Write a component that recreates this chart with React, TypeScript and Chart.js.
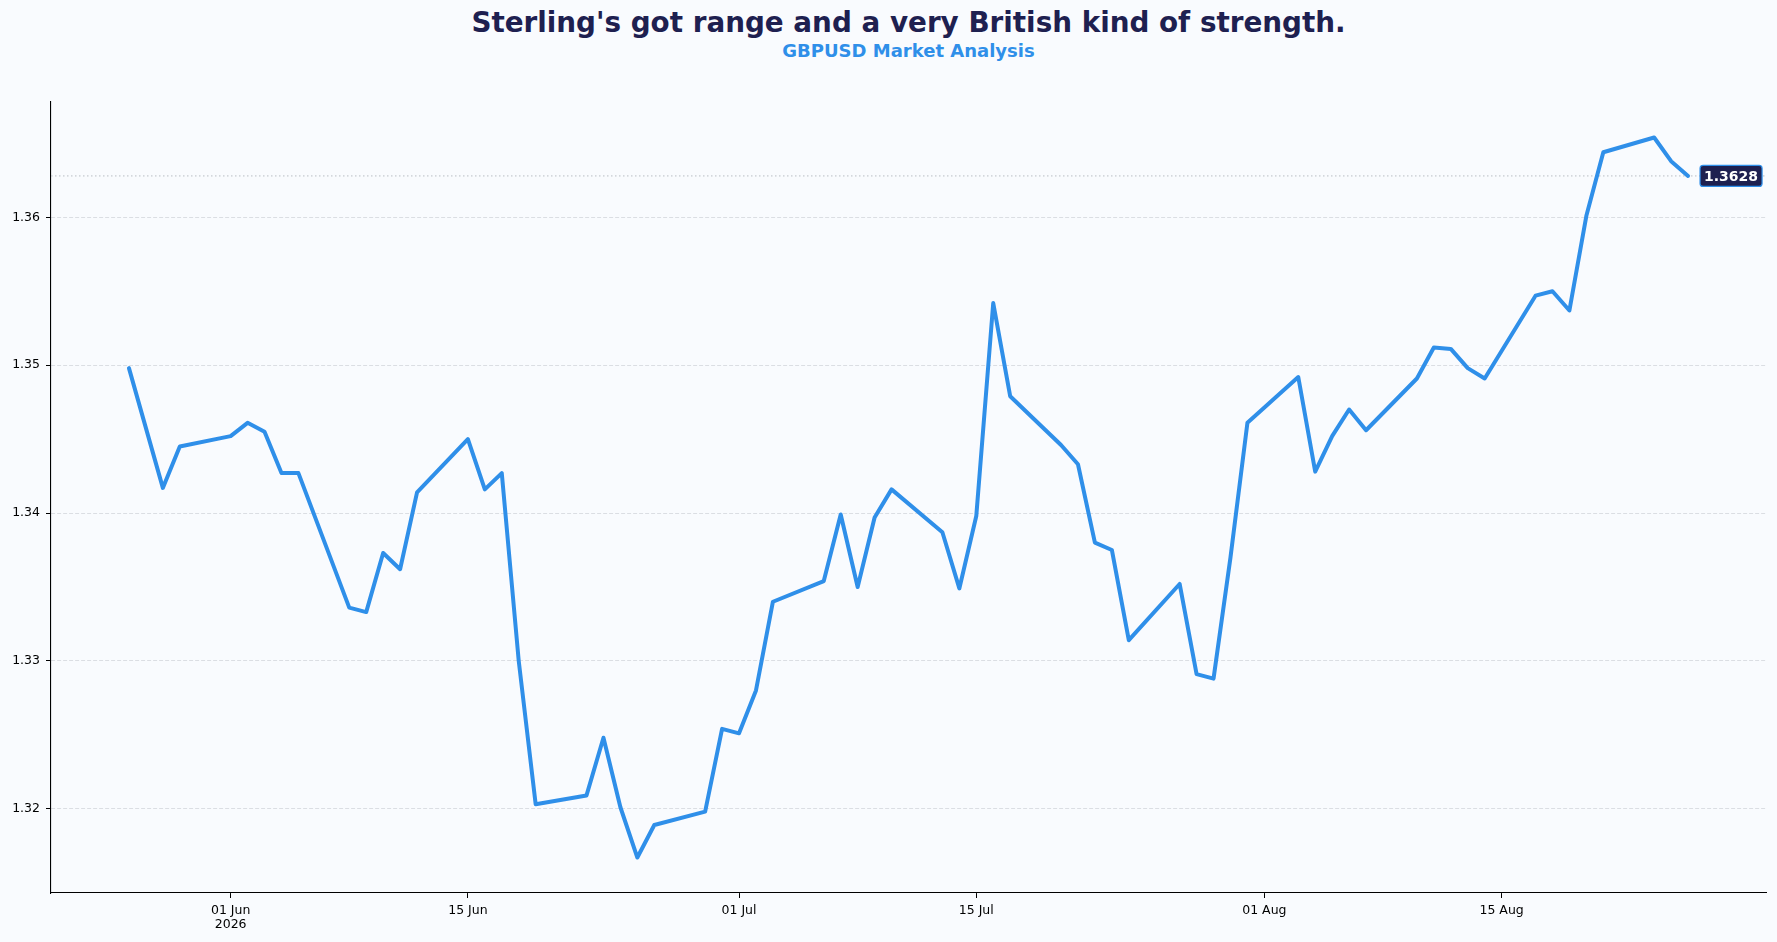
import React, { useEffect, useRef } from "react";
import { Chart, ChartConfiguration, Plugin, registerables } from "chart.js";

Chart.register(...registerables);

// GBPUSD daily closes (trading days)
const dates = [
  "2026-05-26", "2026-05-28", "2026-05-29",
  "2026-06-01", "2026-06-02", "2026-06-03", "2026-06-04", "2026-06-05",
  "2026-06-08", "2026-06-09", "2026-06-10", "2026-06-11", "2026-06-12",
  "2026-06-15", "2026-06-16", "2026-06-17", "2026-06-18", "2026-06-19",
  "2026-06-22", "2026-06-23", "2026-06-24", "2026-06-25", "2026-06-26",
  "2026-06-29", "2026-06-30", "2026-07-01", "2026-07-02", "2026-07-03",
  "2026-07-06", "2026-07-07", "2026-07-08", "2026-07-09", "2026-07-10",
  "2026-07-13", "2026-07-14", "2026-07-15", "2026-07-16", "2026-07-17",
  "2026-07-20", "2026-07-21", "2026-07-22", "2026-07-23", "2026-07-24",
  "2026-07-27", "2026-07-28", "2026-07-29", "2026-07-30", "2026-07-31",
  "2026-08-03", "2026-08-04", "2026-08-05", "2026-08-06", "2026-08-07",
  "2026-08-10", "2026-08-11", "2026-08-12", "2026-08-13", "2026-08-14",
  "2026-08-17", "2026-08-18", "2026-08-19", "2026-08-20", "2026-08-21",
  "2026-08-24", "2026-08-25", "2026-08-26",
];

const closes = [
  1.3498, 1.3417, 1.3445,
  1.3452, 1.3461, 1.3455, 1.3427, 1.3427,
  1.3336, 1.3333, 1.3373, 1.3362, 1.3414,
  1.345, 1.3416, 1.3427, 1.33, 1.3203,
  1.3209, 1.3248, 1.3201, 1.3167, 1.3189,
  1.3198, 1.3254, 1.3251, 1.328, 1.334,
  1.3354, 1.3399, 1.335, 1.3397, 1.3416,
  1.3387, 1.3349, 1.3398, 1.3542, 1.3479,
  1.3446, 1.3433, 1.338, 1.3375, 1.3314,
  1.3352, 1.3291, 1.3288, 1.337, 1.3461,
  1.3492, 1.3428, 1.3452, 1.347, 1.3456,
  1.3491, 1.3512, 1.3511, 1.3498, 1.3491,
  1.3547, 1.355, 1.3537, 1.3601, 1.3644,
  1.3654, 1.3638, 1.3628,
];

const xTickDates = ["2026-06-01", "2026-06-15", "2026-07-01", "2026-07-15", "2026-08-01", "2026-08-15"];
const yTicks = [1.32, 1.33, 1.34, 1.35, 1.36];

const MONTHS = ["Jan", "Feb", "Mar", "Apr", "May", "Jun", "Jul", "Aug", "Sep", "Oct", "Nov", "Dec"];
const DAY = 86400000;
const origin = Date.UTC(2026, 5, 1);
const toDay = (d: string) => (new Date(d + "T00:00:00Z").getTime() - origin) / DAY;

const xTicks = xTickDates.map(toDay);
const points = dates.map((d, i) => ({ x: toDay(d), y: closes[i] }));
const last = closes[closes.length - 1];

const FONT = "'DejaVu Sans', 'Noto Sans', sans-serif";
const LINE = "#2f8fe9";
const NAVY = "#1e2050";

const xMin = -10.6;
const xMax = 90.6;

// badge with the last close, to the right of the final point
const lastLabel: Plugin<"line"> = {
  id: "lastLabel",
  afterDatasetsDraw(chart) {
    const meta = chart.getDatasetMeta(0);
    const pt = meta.data[meta.data.length - 1];
    if (!pt) return;
    const ctx = chart.ctx;
    const text = last.toFixed(4);
    ctx.save();
    ctx.font = `bold 14px ${FONT}`;
    const w = ctx.measureText(text).width + 8;
    const h = 21;
    const x = pt.x + 12;
    const y = pt.y - h / 2;
    ctx.beginPath();
    ctx.roundRect(x, y, w, h, 3);
    ctx.fillStyle = NAVY;
    ctx.fill();
    ctx.lineWidth = 1.2;
    ctx.strokeStyle = LINE;
    ctx.stroke();
    ctx.fillStyle = "#ffffff";
    ctx.textAlign = "center";
    ctx.textBaseline = "middle";
    ctx.fillText(text, x + w / 2, pt.y + 1);
    ctx.restore();
  },
};

const config: ChartConfiguration<"line"> = {
  type: "line",
  data: {
    datasets: [
      {
        label: "GBPUSD",
        data: points,
        borderColor: LINE,
        backgroundColor: LINE,
        borderWidth: 4,
        borderJoinStyle: "round",
        borderCapStyle: "round",
        pointRadius: 0,
        tension: 0,
        fill: false,
      },
      {
        label: "last",
        data: [
          { x: xMin, y: last },
          { x: xMax, y: last },
        ],
        borderColor: "#b9bdc3",
        borderWidth: 1,
        borderDash: [1.5, 2.5],
        pointRadius: 0,
        fill: false,
      },
    ],
  },
  options: {
    animation: false,
    responsive: true,
    maintainAspectRatio: false,
    layout: { padding: { top: 102, right: 11, left: 0, bottom: 0 } },
    plugins: {
      legend: { display: false },
      tooltip: { enabled: false },
      title: { display: false },
    },
    scales: {
      x: {
        type: "linear",
        min: xMin,
        max: xMax,
        afterFit: (s) => {
          s.height = 49;
        },
        afterBuildTicks: (s) => {
          s.ticks = xTicks.map((v) => ({ value: v }));
        },
        ticks: {
          color: "#000",
          font: { family: FONT, size: 12.5, lineHeight: 1.18 },
          padding: 5,
          maxRotation: 0,
          autoSkip: false,
          callback: (v, i) => {
            const d = new Date(origin + Number(v) * DAY);
            const s = `${String(d.getUTCDate()).padStart(2, "0")} ${MONTHS[d.getUTCMonth()]}`;
            return i === 0 ? [s, String(d.getUTCFullYear())] : s;
          },
        },
        grid: {
          drawOnChartArea: false,
          drawTicks: true,
          tickLength: 5,
          tickColor: "#000",
          tickWidth: 1,
        },
        border: { display: true, color: "#000", width: 1.1 },
      },
      y: {
        type: "linear",
        min: 1.3143,
        max: 1.3678,
        afterFit: (s) => {
          s.width = 51;
        },
        afterBuildTicks: (s) => {
          s.ticks = yTicks.map((v) => ({ value: v }));
        },
        ticks: {
          color: "#000",
          font: { family: FONT, size: 12.5 },
          padding: 6,
          callback: (v) => Number(v).toFixed(2),
        },
        grid: {
          color: "#d3d7dc",
          lineWidth: 0.8,
          tickLength: 5,
          tickColor: "#000",
          tickWidth: 1,
          tickBorderDash: [],
        },
        // in v4 the grid line dash lives on border
        border: { display: true, color: "#000", width: 1.1, dash: [4, 2] },
      },
    },
  },
  plugins: [lastLabel],
};

export default function App() {
  const chartRef = useRef<HTMLCanvasElement | null>(null);

  useEffect(() => {
    if (!chartRef.current) {
      return;
    }
    const chartInstance = new Chart(chartRef.current, config);
    return () => {
      chartInstance.destroy();
    };
  }, [chartRef]);

  return (
    <div
      style={{
        position: "fixed",
        left: 0,
        top: 0,
        width: 1777,
        height: 942,
        background: "#f9fbfe",
        fontFamily: FONT,
      }}
    >
      <div
        style={{
          position: "absolute",
          left: 51,
          width: 1715,
          top: 7,
          textAlign: "center",
          fontWeight: "bold",
          fontSize: 27.8,
          lineHeight: "32px",
          color: NAVY,
        }}
      >
        Sterling's got range and a very British kind of strength.
      </div>
      <div
        style={{
          position: "absolute",
          left: 51,
          width: 1715,
          top: 40,
          textAlign: "center",
          fontWeight: "bold",
          fontSize: 18,
          lineHeight: "22px",
          color: LINE,
        }}
      >
        GBPUSD Market Analysis
      </div>
      <div style={{ position: "absolute", inset: 0 }}>
        <canvas ref={chartRef}></canvas>
      </div>
    </div>
  );
}
